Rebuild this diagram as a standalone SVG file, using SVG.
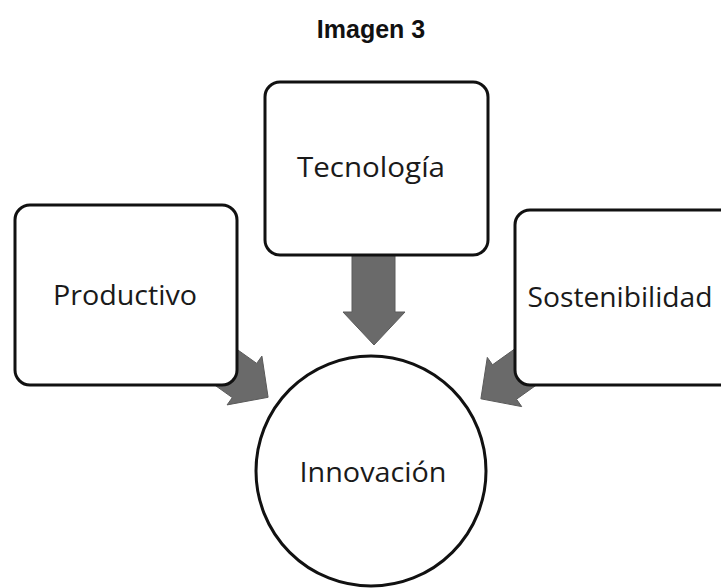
<svg xmlns="http://www.w3.org/2000/svg" width="721" height="588" viewBox="0 0 721 588">
<style>
.box{fill:#fff;stroke:#111;stroke-width:3}
.lbl{font-family:"Open Sans","Noto Sans",sans-serif;font-size:27px;fill:#1a1a1a;text-anchor:middle}
.arr{fill:#6a6a6a;stroke:#5a5a5a;stroke-width:1}
</style>
<rect width="721" height="588" fill="#fff"/>
<text x="371" y="38" font-family="'Liberation Sans',Arial,sans-serif" font-size="25" font-weight="bold" text-anchor="middle" fill="#111">Imagen 3</text>
<g id="connectors">
<path class="arr" d="M352,250 L395,250 L395,312 L405,312 L374,345 L343,312 L352,312 Z"/>
<path class="arr" d="M220.1,337.3 L256.7,363.4 L261.9,356.1 L268.1,397.3 L227.1,404.9 L232.3,397.6 L195.7,371.5 Z"/>
<path class="arr" d="M529,338.7 L492.5,364.8 L487.3,357.4 L480.9,398.8 L521.7,406.6 L516.5,399.2 L553.2,373.1 Z"/>
</g>
<g id="tecnologia">
<rect class="box" x="265" y="82" width="223" height="173" rx="15"/>
<text class="lbl" x="371" y="177" textLength="148" lengthAdjust="spacingAndGlyphs">Tecnología</text>
</g>
<g id="productivo">
<rect class="box" x="15" y="205" width="222" height="180" rx="15"/>
<text class="lbl" x="125" y="305" textLength="144" lengthAdjust="spacingAndGlyphs">Productivo</text>
</g>
<g id="sostenibilidad">
<rect class="box" x="515" y="210" width="240" height="175" rx="15"/>
<text class="lbl" x="620" y="307" textLength="185" lengthAdjust="spacingAndGlyphs">Sostenibilidad</text>
</g>
<g id="innovacion">
<circle class="box" cx="371" cy="471" r="115"/>
<text class="lbl" x="373" y="482" textLength="147" lengthAdjust="spacingAndGlyphs">Innovación</text>
</g>
</svg>
